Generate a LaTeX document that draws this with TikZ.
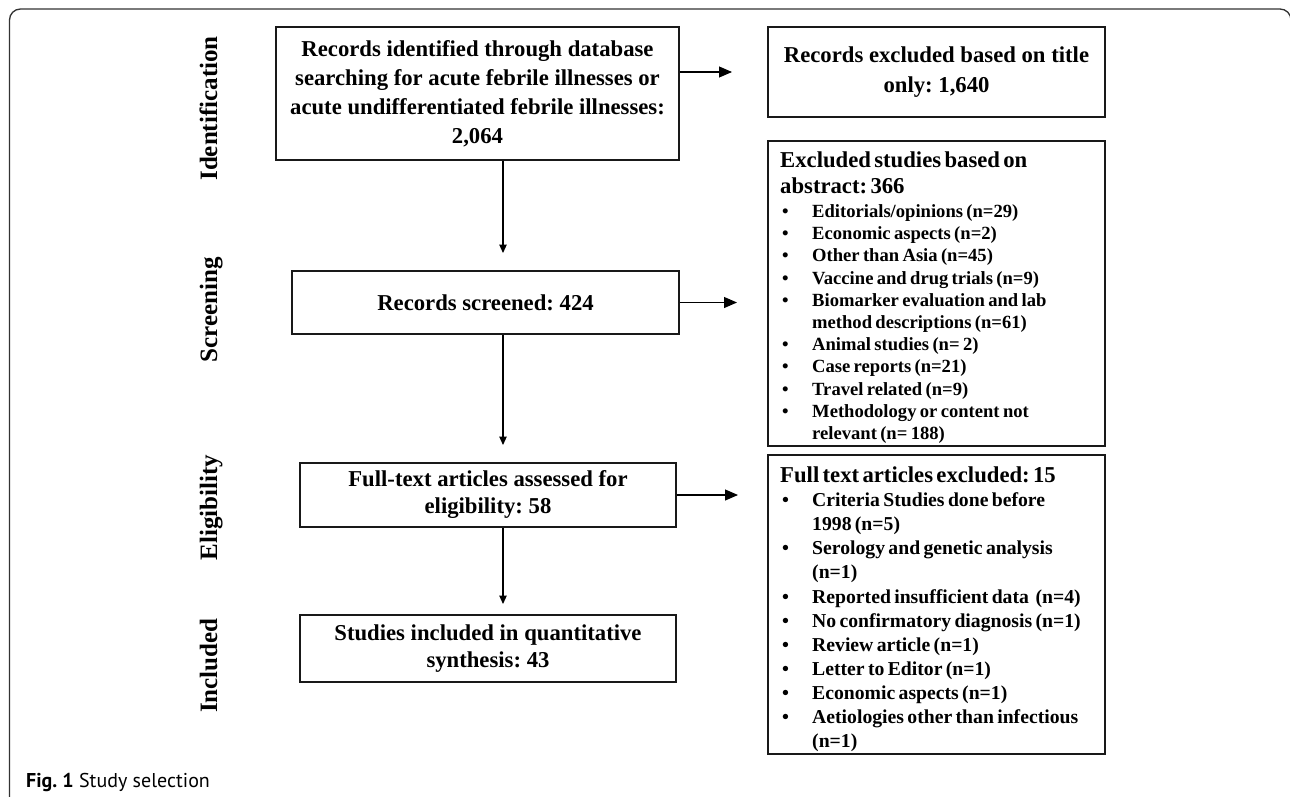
\documentclass[tikz,border=0pt]{standalone}
\usepackage{fontspec}
\setmainfont{Liberation Serif}
\newfontfamily\capfont{PT Sans}
\usetikzlibrary{arrows.meta}
\frenchspacing
\tikzset{
  box/.style={draw=black!90, line width=1.6pt, inner sep=0pt, align=center, font=\bfseries\fontsize{22.7}{29}\selectfont},
  listtext/.style={inner sep=0pt, anchor=north west, text width=340pt, align=left, font=\bfseries},
  harrow/.style={line width=1.1pt, -{Triangle[length=13pt,width=11pt]}},
  varrow/.style={line width=1.1pt, -{Triangle[length=8.5pt,width=7.5pt]}},
  phase/.style={rotate=90, anchor=base, inner sep=0pt, font=\bfseries\fontsize{25}{30}\selectfont},
}
\newcommand\bul{\hspace*{2pt}\makebox[30pt][l]{\textbullet}}
\newcommand\ind{\hspace*{32pt}}
\begin{document}
\frenchspacing
\begin{tikzpicture}[x=1pt,y=-1pt]
\useasboundingbox (0,0) rectangle (1290,797);
\clip (0,0) rectangle (1290,797);
\draw[line width=1.3pt, black!80, rounded corners=11pt] (9.5,830) -- (9.5,9) -- (1291,9) -- (1291,830);

% phase labels
\node[phase] (p1) at (217,108.5) {Identification};
\node[phase] (p2) at (217,310) {Screening};
\node[phase] (p3) at (217,507.5) {Eligibility};
\node[phase] (p4) at (217,665.5) {Included};

% left column
\node[box, minimum width=403pt, minimum height=133pt] (b1) at (477.5,93.5)
  {Records identified through database\\searching for acute febrile illnesses or\\acute undifferentiated febrile illnesses:\\2,064};
\node[box, minimum width=387pt, minimum height=63pt] (b4) at (485.5,302.5)
  {Records screened: 424};
\node[box, minimum width=376pt, minimum height=64pt, font=\bfseries\fontsize{22.7}{27}\selectfont] (b5) at (488,495)
  {Full-text articles assessed for\\eligibility: 58};
\node[box, minimum width=376pt, minimum height=67pt, font=\bfseries\fontsize{22.7}{27}\selectfont] (b7) at (488,648.5)
  {Studies included in quantitative\\synthesis: 43};

% right column
\node[box, minimum width=337pt, minimum height=90pt, font=\bfseries\fontsize{22.7}{30}\selectfont] (b2) at (936.5,72)
  {Records excluded based on title\\only: 1,640};
\node[box, minimum width=337pt, minimum height=305pt] (b3) at (936.5,293.5) {};
\node[listtext] (t3) at (780,151.6) {%
  \fontsize{22.7}{26}\selectfont Excluded studies based on\\abstract: 366\par
  \vspace{1.8pt}%
  \fontsize{18.6}{22.2}\selectfont
  \bul Editorials/opinions (n=29)\\
  \bul Economic aspects (n=2)\\
  \bul Other than Asia (n=45)\\
  \bul Vaccine and drug trials (n=9)\\
  \bul Biomarker evaluation and lab\\
  \ind method descriptions (n=61)\\
  \bul Animal studies (n= 2)\\
  \bul Case reports (n=21)\\
  \bul Travel related (n=9)\\
  \bul Methodology or content not\\
  \ind relevant (n= 188)\par};
\node[box, minimum width=337pt, minimum height=299pt] (b6) at (936.5,604.5) {};
\node[listtext] (t6) at (780,466.6) {%
  \fontsize{22.7}{24.1}\selectfont Full text articles excluded: 15\par
  \fontsize{19.7}{24.1}\selectfont
  \bul Criteria Studies done before\\
  \ind 1998 (n=5)\\
  \bul Serology and genetic analysis\\
  \ind (n=1)\\
  \bul Reported insufficient data~~(n=4)\\
  \bul No confirmatory diagnosis (n=1)\\
  \bul Review article (n=1)\\
  \bul Letter to Editor (n=1)\\
  \bul Economic aspects (n=1)\\
  \bul Aetiologies other than infectious\\
  \ind (n=1)\par};

% connectors
\coordinate (h1) at (732,72);
\coordinate (h2) at (737,303);
\coordinate (h3) at (738,496);
\draw[harrow] ([yshift=21.5pt]b1.east) -- (h1);
\draw[harrow] (b4.east) -- (b4.east -| h2);
\draw[harrow] (b5.east) -- (b5.east -| h3);
\coordinate (v1) at (503,253);
\coordinate (v2) at (503,445);
\coordinate (v3) at (503,604);
\draw[varrow] (b1.south -| v1) -- (v1);
\draw[varrow] (b4.south -| v2) -- (v2);
\draw[varrow] (b5.south -| v3) -- (v3);

% caption
\node[anchor=base west, inner sep=0pt, font=\capfont\fontsize{20}{24}\selectfont] (cap) at (26,787)
  {\textbf{Fig. 1} Study selection};
\end{tikzpicture}
\end{document}
